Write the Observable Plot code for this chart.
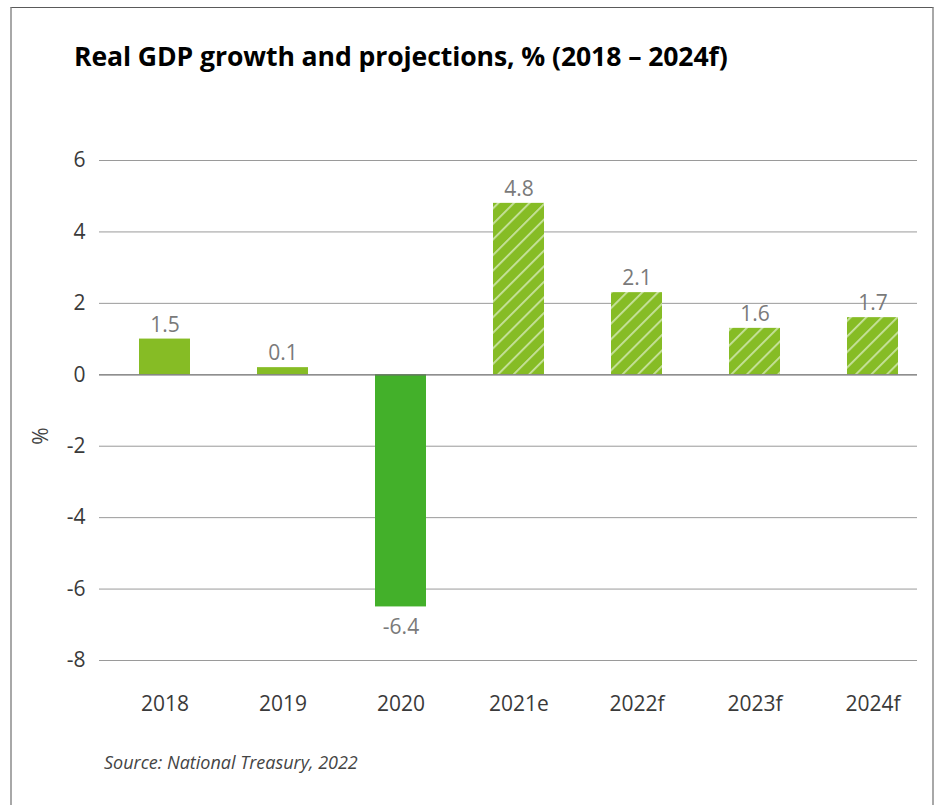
<!DOCTYPE html>
<html>
<head>
<meta charset="utf-8">
<script src="https://cdn.jsdelivr.net/npm/d3@7"></script>
<script src="https://cdn.jsdelivr.net/npm/@observablehq/plot@0.6"></script>
<style>
  html, body { margin: 0; padding: 0; background: #fff; }
  body { width: 941px; height: 805px; position: relative; overflow: hidden; font-family: "Open Sans", sans-serif; }
  #frame { position: absolute; left: 10px; top: 7px; width: 924px; height: 820px;
           border-top: 1.5px solid #5a5a5a; border-left: 2px solid #a8a8a8; border-right: 2px solid #a8a8a8; box-sizing: border-box; }
  #title { position: absolute; left: 74px; top: 38px; font-size: 26.6px; font-weight: 700; color: #000; white-space: nowrap; letter-spacing: -0.1px; }
  #chart { position: absolute; left: 0; top: 0; }
  #caption { position: absolute; left: 104px; top: 750px; font-size: 18px; font-style: italic; color: #444; white-space: nowrap; }
  #ylabel { position: absolute; left: 40px; top: 436px; font-size: 21px; color: #444; transform: translate(-50%, -50%) rotate(-90deg); white-space: nowrap; }
</style>
</head>
<body>
<div id="frame"></div>
<div id="title">Real GDP growth and projections, % (2018 – 2024f)</div>
<div id="chart"></div>
<div id="ylabel">%</div>
<div id="caption">Source: National Treasury, 2022</div>
<script>
const years = ["2018", "2019", "2020", "2021e", "2022f", "2023f", "2024f"];
const barValues = [1.0, 0.2, -6.5, 4.8, 2.3, 1.3, 1.6];
const valueLabels = ["1.5", "0.1", "-6.4", "4.8", "2.1", "1.6", "1.7"];
const kinds = ["actual", "actual", "covid", "forecast", "forecast", "forecast", "forecast"];
const yTicks = [-8, -6, -4, -2, 0, 2, 4, 6];

const data = years.map((y, i) => ({year: y, value: barValues[i], label: valueLabels[i], kind: kinds[i]}));

const plot = Plot.plot({
  width: 941,
  height: 730,
  marginTop: 160,
  marginBottom: 70,
  marginLeft: 99,
  marginRight: 24,
  style: {fontFamily: "Open Sans, sans-serif", background: "transparent", overflow: "visible"},
  x: {domain: years, paddingInner: 0.568, paddingOuter: 0.25, align: 0.68, label: null},
  y: {domain: [-8, 6], ticks: yTicks, label: null},
  marks: [
    Plot.ruleY(yTicks.filter(t => t !== 0), {stroke: "#9a9a9a", strokeWidth: 1}),
    Plot.barY(data.filter(d => d.kind === "actual"), {x: "year", y: "value", fill: "#86bc25"}),
    Plot.barY(data.filter(d => d.kind === "covid"), {x: "year", y: "value", fill: "#43b02a"}),
    Plot.barY(data.filter(d => d.kind === "forecast"), {x: "year", y: "value", fill: "url(#hatch)"}),
    Plot.ruleY([0], {stroke: "#6a6a6a", strokeWidth: 1.2}),
    Plot.text(data.filter(d => d.value >= 0), {x: "year", y: "value", text: "label", dy: -14, fill: "#7a7a7a", fontSize: 21}),
    Plot.text(data.filter(d => d.value < 0), {x: "year", y: "value", text: "label", dy: 20, fill: "#7a7a7a", fontSize: 21}),
    Plot.axisY({ticks: yTicks, tickSize: 0, tickPadding: 14, fontSize: 21, color: "#3a3a3a",
                tickFormat: d => String(d), label: null}),
    Plot.axisX({tickSize: 0, tickPadding: 36, fontSize: 21, color: "#3a3a3a", label: null})
  ]
});

// hatch pattern for estimates/forecasts
const ns = "http://www.w3.org/2000/svg";
const defs = document.createElementNS(ns, "defs");
const pat = document.createElementNS(ns, "pattern");
pat.setAttribute("id", "hatch");
pat.setAttribute("patternUnits", "userSpaceOnUse");
pat.setAttribute("width", "11");
pat.setAttribute("height", "11");
pat.setAttribute("patternTransform", "rotate(45)");
const bg = document.createElementNS(ns, "rect");
bg.setAttribute("width", "11"); bg.setAttribute("height", "11"); bg.setAttribute("fill", "#86bc25");
const stripe = document.createElementNS(ns, "rect");
stripe.setAttribute("x", "0"); stripe.setAttribute("width", "1.8"); stripe.setAttribute("height", "11"); stripe.setAttribute("fill", "#c9e3a0");
pat.appendChild(bg); pat.appendChild(stripe);
defs.appendChild(pat);
plot.insertBefore(defs, plot.firstChild);

document.getElementById("chart").appendChild(plot);
</script>
</body>
</html>
